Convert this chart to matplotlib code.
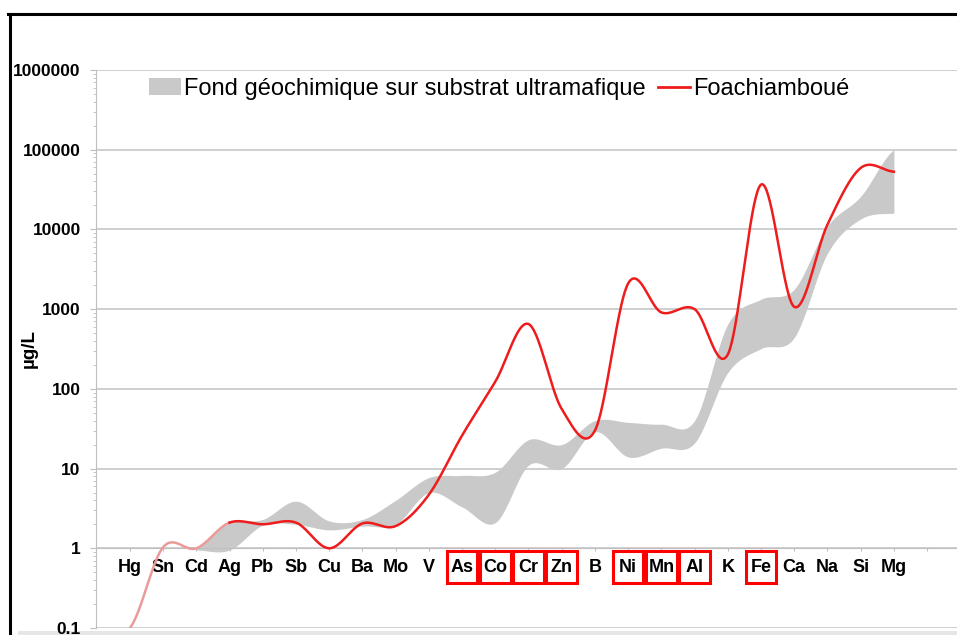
import matplotlib.pyplot as plt
import matplotlib.transforms as mtransforms
import numpy as np
from matplotlib.lines import Line2D
from matplotlib.patches import Patch, Rectangle

plt.rcParams['font.family'] = ['Liberation Sans', 'DejaVu Sans']

# valeurs (µg/L)
elements = ["Hg", "Sn", "Cd", "Ag", "Pb", "Sb", "Cu", "Ba", "Mo", "V", "As", "Co",
            "Cr", "Zn", "B", "Ni", "Mn", "Al", "K", "Fe", "Ca", "Na", "Si", "Mg"]
foachiamboue = [0.1, 1.03, 1.0, 2.1, 2.0, 2.1, 1.0, 2.05, 1.9, 4.7, 26, 123,
                650, 56, 30, 2100, 910, 1000, 270, 36500, 1070, 11500, 59000, 53000]
fond_bas = [np.nan, np.nan, 0.95, 0.95, 1.95, 2.0, 1.7, 1.9, 2.0, 5.0, 3.3, 2.1,
            11, 10, 29, 14, 18, 21, 160, 320, 440, 5000, 13500, 16000]
fond_haut = [np.nan, np.nan, 1.02, 2.1, 2.3, 3.9, 2.2, 2.3, 4.0, 7.7, 8.2, 9.0,
             23, 20, 40, 38, 36, 40, 650, 1330, 1780, 11000, 26000, 100000]
encadres = ["As", "Co", "Cr", "Zn", "Ni", "Mn", "Al", "Fe"]

ROUGE = '#ee1c1c'
GRIS = '#c9c9c9'


def lisser(x, y, n=40):
    # courbe lissée type Excel (Catmull-Rom) en espace log
    x = np.asarray(x, float)
    ly = np.log10(np.asarray(y, float))
    xs, ys = [], []
    t = np.linspace(0, 1, n, endpoint=False)
    for i in range(len(x) - 1):
        p0 = ly[max(i - 1, 0)]
        p1 = ly[i]
        p2 = ly[i + 1]
        p3 = ly[min(i + 2, len(x) - 1)]
        seg = 0.5 * (2 * p1 + (-p0 + p2) * t + (2 * p0 - 5 * p1 + 4 * p2 - p3) * t ** 2
                     + (-p0 + 3 * p1 - 3 * p2 + p3) * t ** 3)
        xs.append(x[i] + (x[i + 1] - x[i]) * t)
        ys.append(seg)
    xs.append([x[-1]])
    ys.append([ly[-1]])
    return np.concatenate(xs), 10 ** np.concatenate(ys)


fig = plt.figure(figsize=(9.57, 6.35), dpi=100)
ax = fig.add_axes([96 / 957, 7 / 635, 861 / 957, 558 / 635])

pos = np.arange(len(elements))

# fond géochimique (bande grise)
ok = ~np.isnan(np.array(fond_bas))
xb, yb = lisser(pos[ok], np.array(fond_bas)[ok])
xh, yh = lisser(pos[ok], np.array(fond_haut)[ok])
ax.fill_between(xb, yb, yh, color=GRIS, lw=0, zorder=2)

# Foachiamboué
xr, yr = lisser(pos, foachiamboue)
debut = xr <= 3
ax.plot(xr[debut], yr[debut], color='#eb9a9a', lw=1.8, zorder=3)
ax.plot(xr[xr >= 3], yr[xr >= 3], color=ROUGE, lw=1.8, zorder=3)

ax.set_yscale('log')
ax.set_ylim(0.1, 1e6)
ax.set_xlim(-1.02, 24.9)
yt = [0.1, 1, 10, 100, 1000, 10000, 100000, 1000000]
ax.set_yticks(yt)
ax.set_yticklabels(['0.1', '1', '10', '100', '1000', '10000', '100000', '1000000'])
ax.yaxis.set_minor_formatter(plt.NullFormatter())
ax.set_xticks(range(len(elements) + 1))
ax.set_xticklabels(elements + [''])

ax.spines['top'].set_visible(False)
ax.spines['right'].set_visible(False)
ax.spines['left'].set_color('#bfbfbf')
ax.spines['bottom'].set_color('#bfbfbf')
ax.spines['bottom'].set_position(('data', 1))
ax.yaxis.grid(True, which='major', color='#cccccc', lw=1.3)
ax.set_axisbelow(True)

ax.tick_params(axis='y', which='major', length=4, color='#bfbfbf', pad=7, labelsize=12.5)
ax.tick_params(axis='y', which='minor', length=2.5, color='#bfbfbf')
ax.tick_params(axis='x', length=2.5, color='#bfbfbf', pad=5, labelsize=13)
for lab in ax.get_xticklabels() + ax.get_yticklabels():
    lab.set_fontweight('bold')

# cadres rouges autour des éléments
trans = mtransforms.blended_transform_factory(ax.transData, fig.transFigure)
for nom in encadres:
    i = elements.index(nom)
    ax.add_patch(Rectangle((i - 0.46, 1 - 583 / 635), 0.92, 32 / 635, transform=trans,
                           fill=False, ec='#ff0000', lw=2.2, clip_on=False, zorder=5))

fig.text(29 / 957, 1 - 348 / 635, 'µg/L', rotation=90, fontweight='bold', fontsize=13.5,
         ha='center', va='center')

handles = [Patch(fc=GRIS, ec='none'), Line2D([], [], color=ROUGE, lw=2)]
fig.legend(handles, ['Fond géochimique sur substrat ultramafique', 'Foachiamboué'],
           loc='center left', bbox_to_anchor=(149 / 957, 1 - 89 / 635), ncol=2, frameon=False,
           fontsize=17, handlelength=1.35, handleheight=0.75, handletextpad=0.15,
           columnspacing=0.5, borderpad=0, borderaxespad=0)

# cadre noir autour de la figure
fig.add_artist(Line2D([8 / 957, 1], [1 - 13.5 / 635] * 2, color='black', lw=2.2,
                      transform=fig.transFigure))
fig.add_artist(Line2D([9.5 / 957] * 2, [0, 1 - 13.5 / 635], color='black', lw=2.2,
                      transform=fig.transFigure))
fig.add_artist(Rectangle((18 / 957, 0), 1, 4 / 635, transform=fig.transFigure,
                         fc='#e6e6e6', ec='none', zorder=-1))

fig.savefig('out.png', dpi=100)
